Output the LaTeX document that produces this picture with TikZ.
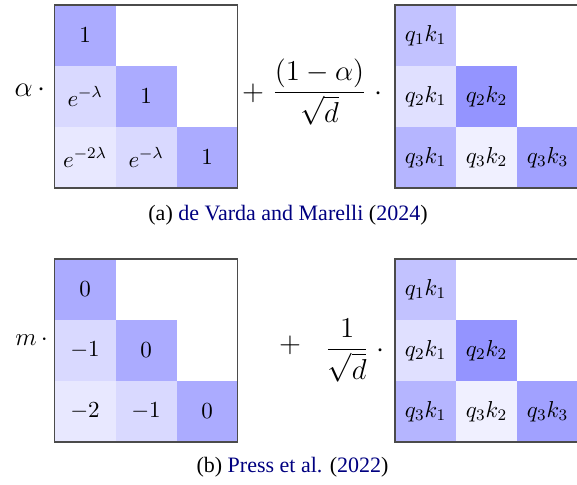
\documentclass[tikz,border=0pt]{standalone}
\usepackage{fix-cm}
\usepackage{fontspec}
\newfontfamily\capfont{Liberation Serif}
\definecolor{citeblue}{RGB}{0,0,128}
\definecolor{framegray}{RGB}{75,75,75}
\tikzset{
  cell/.style={minimum width=30.5pt, minimum height=30.5pt, inner sep=0pt, outer sep=0pt, font=\fontsize{11.5}{13}\selectfont},
  frame/.style={draw=framegray, line width=0.7pt},
  bigmath/.style={inner sep=0pt, font=\fontsize{14.4}{17}\selectfont},
  midmath/.style={inner sep=0pt, font=\fontsize{12.5}{14}\selectfont},
  caption/.style={inner sep=0pt, font=\capfont\fontsize{11}{13}\selectfont},
}
\begin{document}
\begin{tikzpicture}[x=0.5pt,y=-0.5pt]
\useasboundingbox (0,0) rectangle (577,484);
% ---------- matrix A (top left)
\node[cell,fill=blue!33] (A11) at (85,35.5) {$1$};
\node[cell,fill=blue!15] (A21) at (85,96.5) {$e^{-\lambda}$};
\node[cell,fill=blue!33] (A22) at (146,96.5) {$1$};
\node[cell,fill=blue!9]  (A31) at (85,157.5) {$e^{-2\lambda}$};
\node[cell,fill=blue!15] (A32) at (146,157.5) {$e^{-\lambda}$};
\node[cell,fill=blue!33] (A33) at (207,157.5) {$1$};
\draw[frame] (A11.north west) rectangle (A33.south east);
% ---------- matrix B (top right)
\node[cell,fill=blue!24] (B11) at (425.5,35.5) {$q_1k_1$};
\node[cell,fill=blue!12] (B21) at (425.5,96.5) {$q_2k_1$};
\node[cell,fill=blue!42] (B22) at (486.5,96.5) {$q_2k_2$};
\node[cell,fill=blue!29] (B31) at (425.5,157.5) {$q_3k_1$};
\node[cell,fill=blue!6]  (B32) at (486.5,157.5) {$q_3k_2$};
\node[cell,fill=blue!37] (B33) at (547.5,157.5) {$q_3k_3$};
\draw[frame] (B11.north west) rectangle (B33.south east);
% ---------- matrix C (bottom left)
\node[cell,fill=blue!33] (C11) at (85,289.5) {$0$};
\node[cell,fill=blue!15] (C21) at (85,350.5) {$-1$};
\node[cell,fill=blue!33] (C22) at (146,350.5) {$0$};
\node[cell,fill=blue!9]  (C31) at (85,411.5) {$-2$};
\node[cell,fill=blue!15] (C32) at (146,411.5) {$-1$};
\node[cell,fill=blue!33] (C33) at (207,411.5) {$0$};
\draw[frame] (C11.north west) rectangle (C33.south east);
% ---------- matrix D (bottom right)
\node[cell,fill=blue!24] (D11) at (425.5,289.5) {$q_1k_1$};
\node[cell,fill=blue!12] (D21) at (425.5,350.5) {$q_2k_1$};
\node[cell,fill=blue!42] (D22) at (486.5,350.5) {$q_2k_2$};
\node[cell,fill=blue!29] (D31) at (425.5,411.5) {$q_3k_1$};
\node[cell,fill=blue!6]  (D32) at (486.5,411.5) {$q_3k_2$};
\node[cell,fill=blue!37] (D33) at (547.5,411.5) {$q_3k_3$};
\draw[frame] (D11.north west) rectangle (D33.south east);
% ---------- operators, row (a)
\node[bigmath, anchor=base east] (alpha) at (46,96) {$\alpha\,\cdot$};
\node[bigmath, anchor=base] (plusA) at (253,100) {$+$};
\node[bigmath, anchor=base west] (fracA) at (272,100) {$\displaystyle\frac{(1-\alpha)}{\sqrt{d}}\;\cdot$};
% ---------- operators, row (b)
\node[midmath, anchor=base east] (m) at (48.3,345) {$m\,\cdot$};
\node[bigmath, anchor=base] (plusB) at (290,352) {$+$};
\node[bigmath, anchor=base west] (fracB) at (325,357) {$\displaystyle\frac{1}{\sqrt{d}}\;\cdot$};
% ---------- captions
\node[caption] (capA) at (288,215.5) {(a) \textcolor{citeblue}{de Varda and Marelli} (\textcolor{citeblue}{2024})};
\node[caption] (capB) at (292.5,467) {(b) \textcolor{citeblue}{Press et al.} (\textcolor{citeblue}{2022})};
\end{tikzpicture}
\end{document}
